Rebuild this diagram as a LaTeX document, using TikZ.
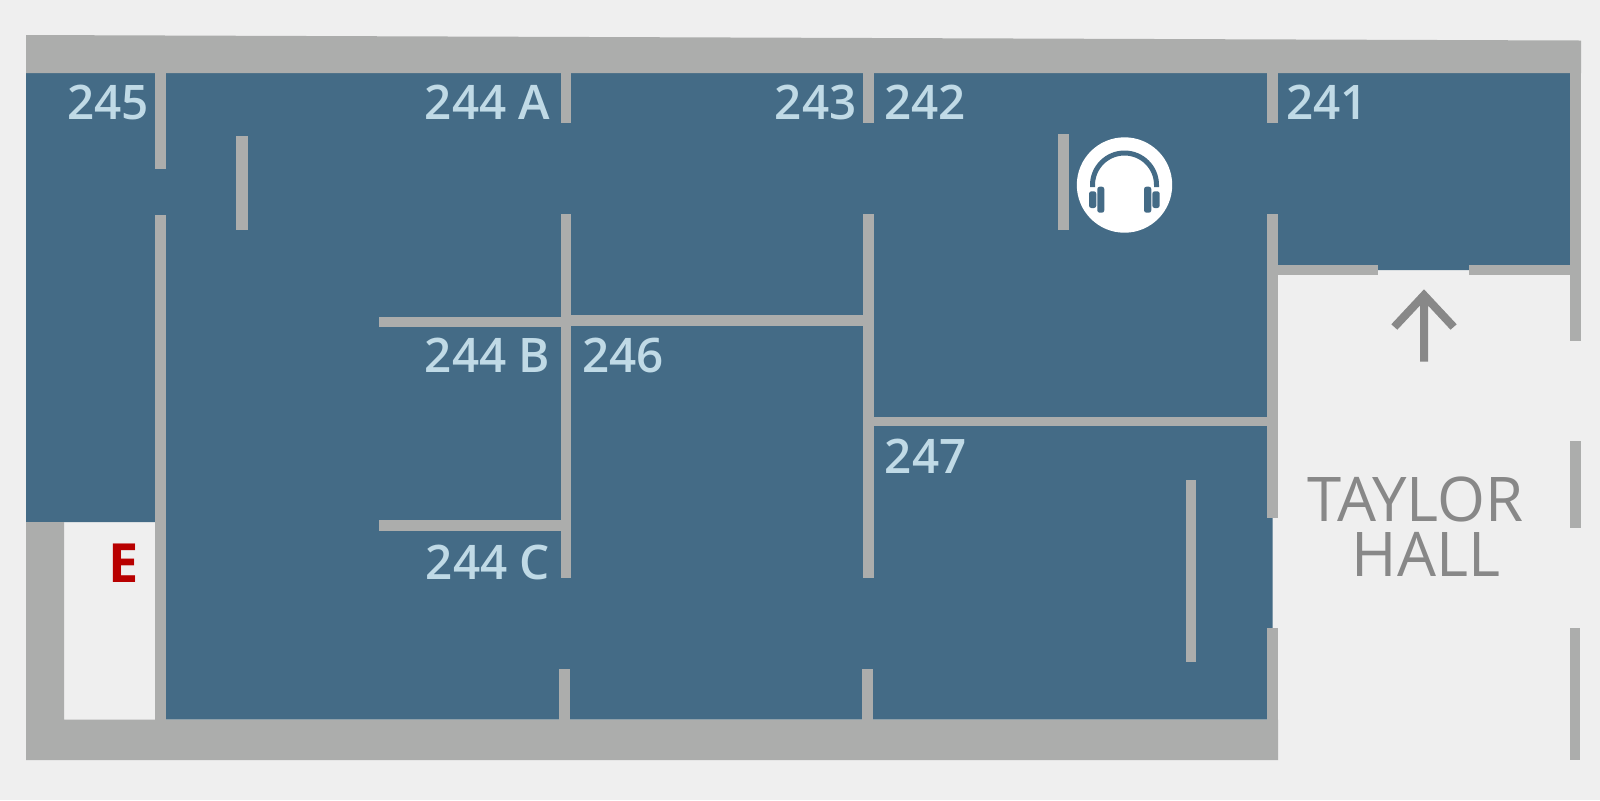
\documentclass[tikz,border=0pt]{standalone}
\usepackage{fontspec}
\setmainfont{Open Sans}
\IfFontExistsTF{Open Sans Semibold}{\newfontfamily\labelfont{Open Sans Semibold}}{\newfontfamily\labelfont[FakeBold=2.2]{Open Sans}}
\definecolor{pagebg}{HTML}{EFEFEF}
\definecolor{wallgray}{HTML}{ACADAC}
\definecolor{roomblue}{HTML}{446B86}
\definecolor{labelblue}{HTML}{C0DAE6}
\definecolor{hallgray}{HTML}{888888}
\definecolor{exitred}{HTML}{B80000}
\tikzset{
  wall/.style={fill=wallgray},
  room/.style={fill=roomblue},
  roomlabel/.style={anchor=base west,inner sep=0pt,text=labelblue,font=\labelfont\fontsize{23.8}{28}\selectfont},
  halllabel/.style={anchor=base,inner sep=0pt,text=hallgray,font=\fontsize{30.8}{36}\selectfont},
  exitlabel/.style={anchor=base west,inner sep=0pt,text=exitred,font=\bfseries\fontsize{27}{32}\selectfont},
  iconpart/.style={fill=roomblue,rounded corners=1.2pt}
}
\begin{document}
\begin{tikzpicture}[x=0.5pt,y=-0.5pt]
\useasboundingbox (0,0) rectangle (1600,800);
\fill[pagebg] (0,0) rectangle (1600,800);
% rooms
\fill[room] (26,73) -- (1570,73) -- (1570,270) -- (1272.5,270) -- (1272.5,719.5) -- (160,719.5) -- (160,522) -- (26,522) -- cycle;
% outer walls
\fill[wall] (26,35) -- (1581,40.5) -- (1581,73) -- (26,73) -- cycle;
\fill[wall] (26,522) -- (64,522) -- (64,719.5) -- (1278,719.5) -- (1278,760) -- (26,760) -- cycle;
\fill[wall] (1570,73) rectangle (1581,340.7);
\fill[wall] (1570,440.5) rectangle (1580.5,528);
\fill[wall] (1570,627.7) rectangle (1580,759.5);
% column at x=155
\fill[wall] (155,73) rectangle (165.5,169.3);
\fill[wall] (155,215.3) rectangle (165.7,719.5);
\fill[wall] (236,136) rectangle (248,230);
% column at x=560
\fill[wall] (560.7,73) rectangle (571.3,123.3);
\fill[wall] (560.7,214.3) rectangle (571.3,578.3);
\fill[wall] (559.3,669) rectangle (570.3,719.5);
% column at x=863
\fill[wall] (863.3,73) rectangle (874.3,123.3);
\fill[wall] (863.3,214.3) rectangle (874.3,578.3);
\fill[wall] (862.3,669.3) rectangle (873.3,719.5);
% horizontal walls
\fill[wall] (379,316.7) rectangle (560.7,326.7);
\fill[wall] (571,315) rectangle (863.3,325.7);
\fill[wall] (379.3,520.3) rectangle (560.7,530.7);
\fill[wall] (874,416.7) rectangle (1267,426.3);
\fill[wall] (1186.3,480) rectangle (1196.3,661.7);
\fill[wall] (1058.3,134) rectangle (1069.3,230);
% column at x=1267
\fill[wall] (1267,73) rectangle (1277.7,123.3);
\fill[wall] (1267,214) rectangle (1277.7,517.7);
\fill[wall] (1267,628) rectangle (1278,760);
\fill[wall] (1277,264.7) rectangle (1378.3,275.3);
\fill[wall] (1469,264.7) rectangle (1570,275.3);
% headphones icon
\fill[white] (1124.5,185) circle[radius=47.7];
\draw[roomblue,line width=2.5pt] (1092.5,187) -- (1092.5,185) arc[start angle=180,end angle=0,radius=16pt] -- (1156.5,187);
\fill[iconpart] (1097.3,186.7) rectangle (1104.3,212.7);
\fill[iconpart] (1089,191.3) rectangle (1096.3,208);
\fill[iconpart] (1144,186.7) rectangle (1151.3,212.7);
\fill[iconpart] (1152.3,191.3) rectangle (1159.7,208);
% entrance arrow
\fill[hallgray] (1424,289.3) -- (1456.7,324.3) -- (1450.5,329.7) -- (1428,305.5) -- (1428,361.7) -- (1420,361.7) -- (1420,305.5) -- (1397.3,329.7) -- (1391.3,324.3) -- cycle;
% labels
\node[roomlabel] (r245) at (67,119) {245};
\node[roomlabel] (r244a) at (424.5,119) {244 A};
\node[roomlabel] (r243) at (774.5,119) {243};
\node[roomlabel] (r242) at (884,119) {242};
\node[roomlabel] (r241) at (1286,119) {241};
\node[roomlabel] (r244b) at (424.5,372) {244 B};
\node[roomlabel] (r246) at (582,372) {246};
\node[roomlabel] (r247) at (884.5,473.5) {247};
\node[roomlabel] (r244c) at (425.5,579) {244 C};
\node[exitlabel] (exit) at (108.5,582.7) {E};
\node[halllabel] (taylor) at (1415.5,521) {TAYLOR};
\node[halllabel] (hall) at (1426,576.7) {HALL};
\end{tikzpicture}
\end{document}
